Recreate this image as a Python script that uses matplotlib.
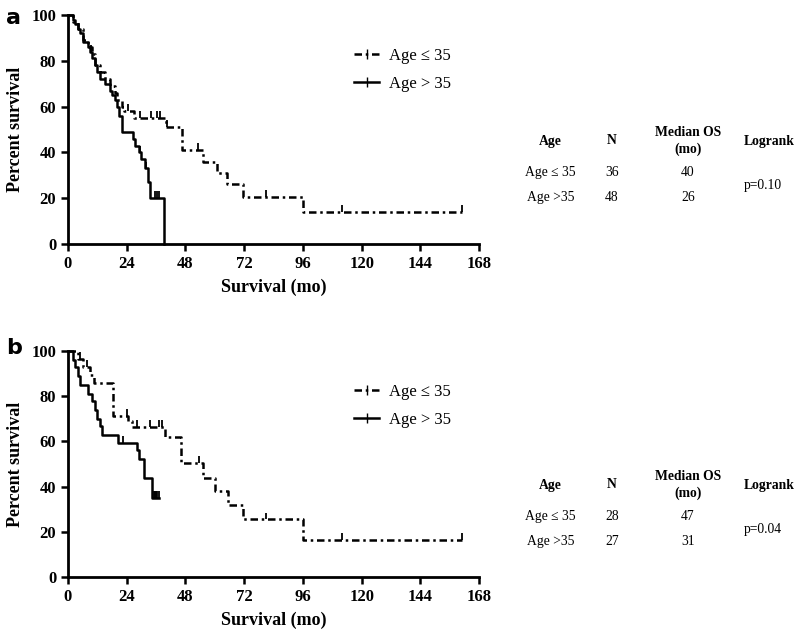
import matplotlib.pyplot as plt
from matplotlib.lines import Line2D
import numpy as np

plt.rcParams['font.family'] = ['Liberation Serif', 'DejaVu Serif']

# panel a - Age <= 35
a_le_t = [0, 2, 4, 6, 8, 10, 11, 13, 15, 17, 19, 20, 22, 23, 27, 40, 46.5, 55, 61, 65, 71.5, 96, 161]
a_le_s = [100, 97, 94, 89, 86, 83, 78, 75, 72, 69, 66, 63, 60, 58, 55, 51, 41, 36, 31, 26, 20.5, 14, 14]
a_le_c = [24.5, 29.5, 34, 36.5, 37.5, 40.5, 53, 81, 112, 161]
# panel a - Age > 35
a_gt_t = [0, 2, 3, 4, 5, 6, 8, 9, 10, 11, 12, 13, 15, 17, 18, 19, 20, 21, 22, 26.5, 27.5, 29, 30, 31.5, 32.5, 33.5, 39.3]
a_gt_s = [100, 98, 96, 94, 92, 88, 86, 84, 81, 78, 75, 72, 70, 67, 65, 63, 60, 56, 49, 46, 43, 40, 37, 33, 27, 20, 0]
a_gt_c = [9.5, 29.5, 32, 35.5, 36.5, 37.3]

# panel b - Age <= 35
b_le_t = [0, 4, 6, 9, 10.7, 18.5, 24.5, 26, 39.5, 46, 55, 60, 65.5, 71.5, 96, 161]
b_le_s = [100, 96.4, 92.9, 89.3, 85.7, 71.4, 69, 66.5, 62, 50.5, 44, 38, 32, 25.5, 16.5, 16.5]
b_le_c = [5, 7.6, 24, 28, 33.5, 37, 38.5, 53.5, 81, 112, 161]
# panel b - Age > 35
b_gt_t = [0, 2, 3, 4, 5, 8, 10, 11, 12, 13, 14, 20.5, 28, 29, 31, 34.3, 37]
b_gt_s = [100, 96, 93, 89, 85, 81, 78, 74, 70, 67, 63, 59.5, 56, 52, 44, 35, 35]
b_gt_c = [22.5, 35, 35.5, 36, 36.5, 37]

tbl_cols = ['Age', 'N', 'Median OS\n(mo)', 'Logrank']
a_rows = [['Age \u2264 35', '36', '40'], ['Age >35', '48', '26']]
b_rows = [['Age \u2264 35', '28', '47'], ['Age >35', '27', '31']]
a_p = 'p=0.10'
b_p = 'p=0.04'

xticks = [0, 24, 48, 72, 96, 120, 144, 168]
yticks = [0, 20, 40, 60, 80, 100]

dash = (0, (3, 1.5, 1, 1.5))


def surv_at(t, s, c):
    t = np.array(t)
    s = np.array(s)
    out = []
    for ci in c:
        idx = np.searchsorted(t, ci, side='right') - 1
        out.append(s[idx])
    return np.array(out)


def km(ax, t, s, c, ls):
    ax.step(t, s, where='post', color='black', lw=1.8, linestyle=ls)
    sc = surv_at(t, s, c)
    ax.vlines(c, sc, sc + 3, color='black', lw=1.3)


fig = plt.figure(figsize=(8, 6.38), dpi=100)
ax_a = fig.add_axes([0.085, 0.6176, 0.514, 0.3589])
ax_b = fig.add_axes([0.085, 0.0956, 0.514, 0.3542])

panels = [
    (ax_a, a_le_t, a_le_s, a_le_c, a_gt_t, a_gt_s, a_gt_c, 'a'),
    (ax_b, b_le_t, b_le_s, b_le_c, b_gt_t, b_gt_s, b_gt_c, 'b'),
]
for ax, lt, ls_, lc, gt, gs, gc, lab in panels:
    km(ax, lt, ls_, lc, dash)
    km(ax, gt, gs, gc, '-')
    ax.set_xlim(0, 168)
    ax.set_ylim(0, 100)
    ax.set_xticks(xticks)
    ax.set_yticks(yticks)
    ax.spines['top'].set_visible(False)
    ax.spines['right'].set_visible(False)
    ax.spines['left'].set_linewidth(2)
    ax.spines['bottom'].set_linewidth(2)
    ax.tick_params(direction='out', width=1.8, length=5, labelsize=12)
    for t in ax.get_xticklabels() + ax.get_yticklabels():
        t.set_fontweight('bold')
    ax.set_xlabel('Survival (mo)', fontsize=13, fontweight='bold', labelpad=5)
    ax.set_ylabel('Percent survival', fontsize=13, fontweight='bold', labelpad=5)
    h1 = Line2D([], [], color='black', lw=1.8, linestyle=dash, marker='|', markersize=7)
    h2 = Line2D([], [], color='black', lw=1.8, linestyle='-', marker='|', markersize=7)
    ax.legend([h1, h2], ['Age \u2264 35', 'Age > 35'], loc='upper left',
              bbox_to_anchor=(0.66, 0.92), frameon=False, fontsize=12,
              handlelength=1.5, labelspacing=0.7, handletextpad=0.6)
    for line in ax.get_lines():
        line.set_clip_on(False)

fig.text(0.008, 0.972, 'a', fontsize=16, fontweight='bold', family='DejaVu Sans', va='center')
fig.text(0.008, 0.455, 'b', fontsize=16, fontweight='bold', family='DejaVu Sans', va='center')

col_x = [0.688, 0.765, 0.860, 0.961]


def table(y_head, rows, p):
    for x, col in zip(col_x, tbl_cols):
        fig.text(x, y_head, col, fontsize=9.8, fontweight='bold', ha='center', va='center',
                 linespacing=1.3)
    for i, row in enumerate(rows):
        y = y_head - (0.05 + 0.038 * i)
        for x, v in zip(col_x[:3], row):
            fig.text(x, y, v, fontsize=9.8, ha='center', va='center')
    fig.text(col_x[3] - 0.008, y_head - 0.069, p, fontsize=9.8, ha='center', va='center')


table(1 - 141 / 638, a_rows, a_p)
table(1 - 485 / 638, b_rows, b_p)

fig.savefig('out.png', dpi=100)
